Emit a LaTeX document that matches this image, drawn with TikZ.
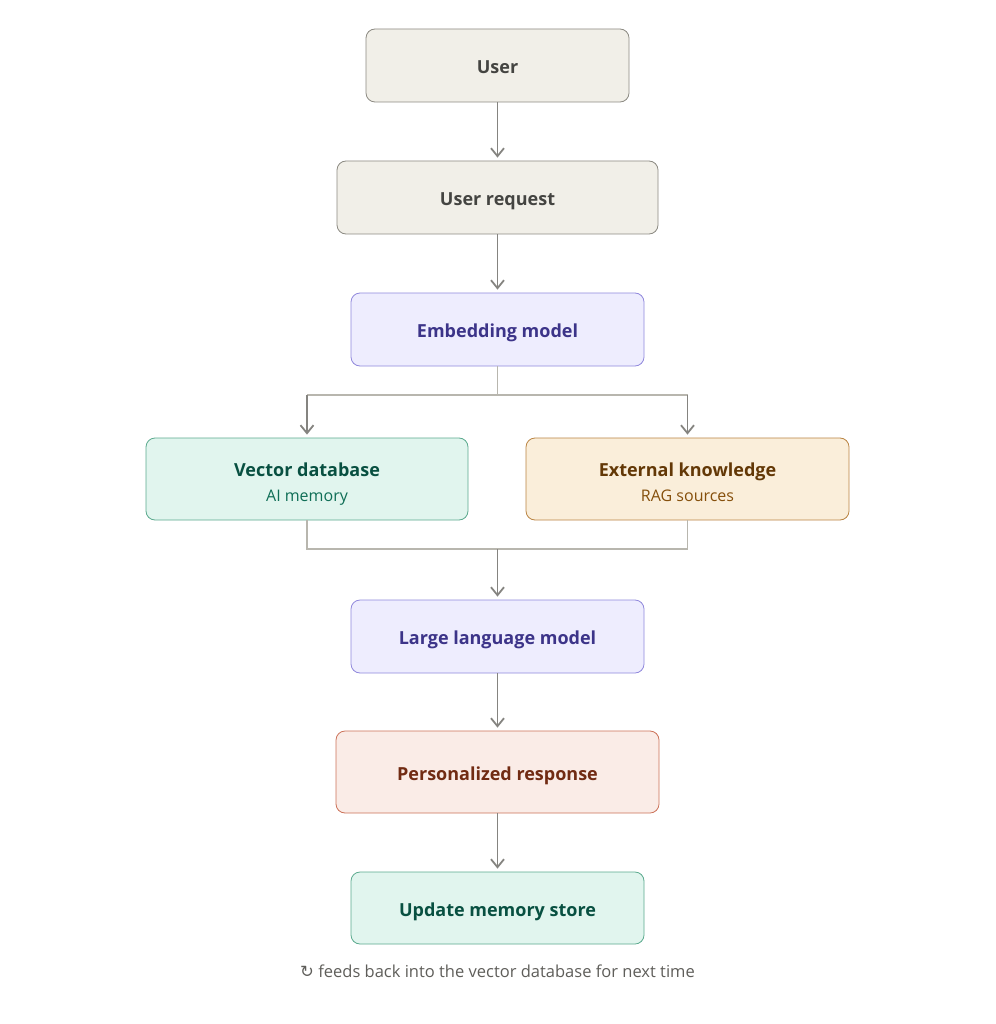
\documentclass[tikz,border=0pt]{standalone}
\usepackage{fontspec}
\setmainfont{Open Sans}
\newfontfamily\symfont{DejaVu Sans}
\usetikzlibrary{arrows.meta}

\definecolor{greyfill}{HTML}{F1EFE8}
\definecolor{greydraw}{HTML}{8C8A82}
\definecolor{greytext}{HTML}{444441}
\definecolor{purpfill}{HTML}{EEEDFE}
\definecolor{purpdraw}{HTML}{9088DC}
\definecolor{purptext}{HTML}{3C3489}
\definecolor{tealfill}{HTML}{E1F5EE}
\definecolor{tealdraw}{HTML}{5BAA8E}
\definecolor{tealtext}{HTML}{085041}
\definecolor{tealsub}{HTML}{0F6E56}
\definecolor{ambrfill}{HTML}{FAEEDA}
\definecolor{ambrdraw}{HTML}{BA8442}
\definecolor{ambrtext}{HTML}{633806}
\definecolor{ambrsub}{HTML}{854F0B}
\definecolor{corlfill}{HTML}{FAECE7}
\definecolor{corldraw}{HTML}{CC7259}
\definecolor{corltext}{HTML}{712B13}
\definecolor{arrowcol}{HTML}{858480}
\definecolor{linkcol}{HTML}{B8B6AE}
\definecolor{notecol}{HTML}{5F5E5A}

\newcommand{\subline}[1]{\\[3pt]{\fontsize{16}{19}\selectfont\mdseries #1}}

\begin{document}
\begin{tikzpicture}[x=1pt, y=-1pt,
    main/.style = {draw, rounded corners=9pt, line width=0.8pt, align=center,
        minimum height=73pt, text height=18pt, text depth=2pt,
        font=\fontsize{18}{22}\selectfont\bfseries},
    twoline/.style = {minimum height=82pt, text height=45pt, text depth=0pt},
    greybox/.style = {main, fill=greyfill, draw=greydraw, text=greytext},
    purpbox/.style = {main, fill=purpfill, draw=purpdraw, text=purptext},
    tealbox/.style = {main, fill=tealfill, draw=tealdraw, text=tealtext},
    ambrbox/.style = {main, fill=ambrfill, draw=ambrdraw, text=ambrtext},
    corlbox/.style = {main, fill=corlfill, draw=corldraw, text=corltext},
    arrow/.style = {draw=arrowcol, line width=1.8pt, shorten >=3pt,
        -{Straight Barb[length=8pt, width=13pt, line width=1.8pt]}},
    link/.style = {draw=linkcol, line width=1.2pt}]

    \useasboundingbox[fill=white] (0,0) rectangle (995,1024);

    \node[greybox, minimum width=263pt] (user)    at (497.5,65.5)  {User};
    \node[greybox, minimum width=321pt] (request) at (497.5,197.5) {User request};
    \node[purpbox, minimum width=293pt] (embed)   at (497.5,329.5) {Embedding model};
    \node[tealbox, twoline, minimum width=322pt] (vecdb) at (307,479)
        {Vector database\subline{\color{tealsub}AI memory}};
    \node[ambrbox, twoline, minimum width=323pt] (extkn) at (687.5,479)
        {External knowledge\subline{\color{ambrsub}RAG sources}};
    \node[purpbox, minimum width=293pt] (llm)     at (497.5,636.5) {Large language model};
    \node[corlbox, minimum width=323pt, minimum height=82pt] (resp) at (497.5,772)
        {Personalized response};
    \node[tealbox, minimum width=293pt, minimum height=72pt] (update) at (497.5,908)
        {Update memory store};
    \node[text=notecol, font=\fontsize{16.5}{19}\selectfont] (note) at (497.5,971)
        {{\symfont\char"21BB} feeds back into the vector database for next time};

    \coordinate (split) at (497.5,395);
    \coordinate (merge) at (497.5,549);

    \draw[arrow] (user) -- (request);
    \draw[arrow] (request) -- (embed);

    % fan out to the two sources
    \draw[link] (embed) -- (split);
    \draw[link] (vecdb.north |- split) -- (extkn.north |- split);
    \draw[arrow] (vecdb.north |- split) -- (vecdb);
    \draw[arrow] (extkn.north |- split) -- (extkn);

    % gather back into the model
    \draw[link] (vecdb) |- (merge);
    \draw[link] (extkn) |- (merge);
    \draw[arrow] (merge) -- (llm);

    \draw[arrow] (llm) -- (resp);
    \draw[arrow] (resp) -- (update);

\end{tikzpicture}
\end{document}
